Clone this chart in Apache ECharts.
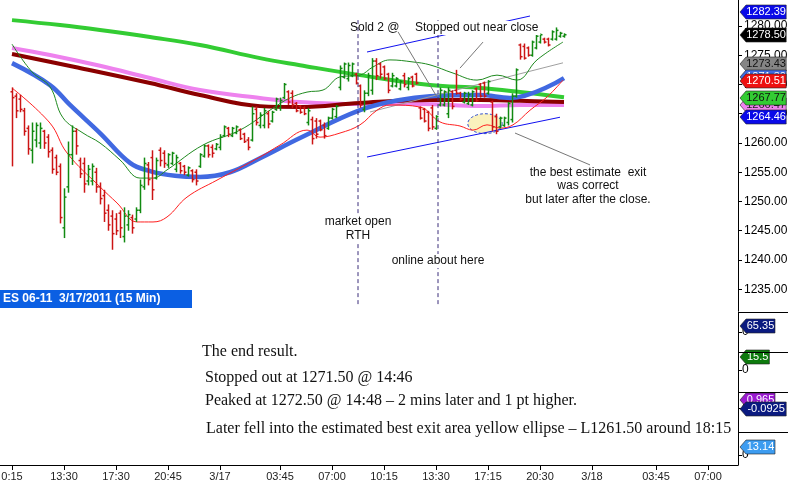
<!DOCTYPE html>
<html>
<head>
<meta charset="utf-8">
<script src="https://cdn.jsdelivr.net/npm/echarts@6/dist/echarts.min.js"></script>
<style>
html, body { margin: 0; padding: 0; background: #fff; }
#main { width: 788px; height: 491px; }
</style>
</head>
<body>
<div id="main"></div>
<script>
// ES 06-11, 15 min bars (bar number from the left edge)
var barOpen = [1268.75,1268,1267.5,1265.5,1262.5,1258.75,1260.5,1260,1262,1261,1258.75,1257.5,1256,1245.5,1252.5,1258,1262,1257,1256.5,1253.5,
  1253.5,1255,1252.5,1251,1248.5,1247.5,1247,1248,1244,1246,1247.25,1247,1248.5,1252.5,1256.25,1257.5,1254,1258.75,1258.25,1256.25,
  1256.5,1255.5,1256.5,1256,1254.5,1255.25,1255,1256,1257.75,1259.5,1259.25,1259,1259.25,1261.25,1262.5,1261.25,1261.75,1262.25,1261.5,1260.5,
  1260.5,1265.75,1263,1263,1265,1263.75,1265.75,1266,1267.75,1268.75,1268.5,1266.75,1266.25,1266,1263.5,1264,1263.75,1263.75,1263,1262.5,
  1264.25,1264.5,1269.5,1271.25,1271,1271.5,1271.75,1269.75,1265.75,1268.5,1269,1274,1273.5,1273,1271.75,1269.75,1269.75,1269.25,1271.5,1269.5,
  1271.25,1271.75,1266,1265.75,1265.25,1266,1262.5,1266.5,1266.5,1265,1268.75,1269,1268.5,1267,1266.75,1266.5,1269.25,1270,1270.25,1268.5,
  1267,1264.5,1262.75,1263,1263.5,1264,1268,1276.75,1276.5,1276.25,1275,1276.25,1277.25,1277.75,1277.75,1277.75,1277.75,1278.25,1278.25];
var barHigh = [1269.5,1268.5,1268.25,1266,1263,1263.5,1263.5,1263.5,1262.25,1261.5,1259.25,1258,1256.5,1252.25,1260.25,1263,1262.5,1257.5,1257.5,1256.25,
  1256.5,1255.75,1253.25,1252,1249.5,1248.5,1248,1248.5,1249,1248.5,1247.75,1249,1253.75,1257.5,1256.75,1258.75,1257.5,1259.25,1258.75,1258.25,
  1258.5,1258,1256.75,1256.25,1256,1255.5,1255.5,1258.25,1259.75,1259.75,1259.75,1260,1261.5,1263,1262.75,1262.75,1263,1262.5,1261.75,1261,
  1266.25,1266.25,1265.25,1266,1265.5,1265.5,1267.75,1267.75,1270.25,1269,1269,1267,1266.5,1266.25,1266,1264.5,1264.25,1264,1263.5,1264.5,
  1266,1266.5,1273.25,1273.75,1273.75,1273.75,1272,1270,1269,1272,1274.5,1274.5,1273.75,1273.25,1272,1272,1271.25,1270.75,1272,1271.25,
  1271.5,1272,1266.25,1266,1265.5,1266.5,1264.75,1269.5,1269,1269.5,1269,1272.5,1268.75,1268.75,1268.75,1269,1269.5,1270.25,1270.5,1270.75,
  1267.25,1265,1264.5,1264.5,1267,1268.5,1272.75,1277,1277,1276.5,1277.5,1278.5,1278.75,1278,1278,1279.25,1279.75,1279,1278.75];
var barLow = [1256,1264.25,1265.25,1261.25,1258,1256.5,1259.25,1259,1259,1257.5,1254.75,1254.5,1246.25,1243.75,1251.5,1256.25,1258,1254,1251.5,1252.75,
  1252.75,1251.5,1249.5,1246.5,1245,1241.75,1244.25,1243.75,1243,1245,1244.5,1246.5,1248,1252,1252.75,1250.25,1253.75,1256,1255.75,1255.75,
  1256.25,1255,1254.75,1254.5,1254.25,1253.25,1252.75,1255.75,1257.5,1257.5,1257.5,1258.75,1258.75,1261,1261,1261,1261.5,1260.5,1260,1258.75,
  1260.25,1263,1262.5,1262.5,1262.5,1263.5,1265.5,1265.5,1267.5,1266.5,1266,1265.25,1265,1264.75,1263,1259.75,1260.75,1262,1260.75,1262.25,
  1264,1264.25,1269,1271,1270.5,1271.25,1270,1266,1265.25,1268,1268.25,1270.75,1271,1270.75,1268.5,1269.5,1269.5,1269,1269.5,1269,
  1269.5,1270,1264,1263.5,1262,1262.25,1262.25,1266.25,1266.25,1264.25,1265.75,1268.25,1267.25,1266.75,1266.5,1266.25,1267,1267.75,1267.75,1268.25,
  1262,1261.5,1262.5,1262.75,1263,1263.5,1267.75,1274.25,1274.25,1274.75,1274.75,1276,1277,1277,1276.5,1277.5,1277.5,1278,1278];
var barClose = [1267.75,1265.5,1265.75,1262,1259,1262,1263,1262.5,1260,1258.5,1255.5,1255,1247.25,1250.75,1258,1262,1259.5,1254.75,1253,1255.5,
  1256,1252.5,1250.5,1248,1246,1244.5,1245,1245.5,1247.5,1247.75,1245.5,1248.5,1252.75,1256.5,1253.75,1252,1257,1257,1256.5,1258,
  1258.25,1257.5,1255.25,1255,1255.75,1253.75,1253.5,1258,1259.5,1258,1258.25,1259.75,1261,1262.75,1261.5,1262.5,1262.75,1260.75,1260.25,1259.25,
  1265,1263.5,1264.75,1265.5,1263.25,1265.25,1267.5,1267.25,1270,1267,1266.5,1265.5,1265.25,1265,1265.5,1260.75,1261.5,1262.25,1261.25,1264.25,
  1265.75,1266.25,1272.75,1273.5,1273.25,1273.5,1270.25,1266.5,1268.5,1271.5,1274,1271.5,1271.75,1271,1269,1271.5,1271,1270.5,1270,1271,
  1269.75,1270.25,1264.25,1263.75,1262.5,1262.75,1264.5,1269,1268.75,1269,1266.25,1268.5,1267.5,1268.5,1268.25,1268.75,1267.25,1268,1268,1270.5,
  1262.75,1262,1264.25,1264.25,1266.75,1268,1272.5,1274.75,1274.5,1275,1277.25,1278.25,1278.5,1277.25,1276.75,1279,1279.25,1278.75,1278.5];

// averages and bands, [bar, price]
var maGreen = [[0,1281.0],[12,1280.15],[22,1279.3],[34.5,1278.1],[47,1276.75],[62,1274.5],[72,1273.3],[87,1271.6],[104.5,1269.9],[117,1269.4],[127,1268.7],[138,1267.8]];
var maPink = [[0,1276.25],[9.5,1275.05],[22,1273.2],[34.5,1271.1],[47,1269.05],[62,1267.7],[72,1267.0],[87,1266.65],[102,1266.65],[117,1266.3],[127,1266.5],[138,1266.5]];
var maDarkRed = [[0,1275.2],[15.75,1273.0],[34.5,1270.25],[47,1268.2],[62,1266.3],[72,1266.15],[87,1266.85],[104.5,1267.35],[117,1267.35],[127,1267.2],[138,1267.0]];
var maBlue = [[0,1273.65],[9.5,1269.9],[14.5,1266.5],[22,1261.7],[29.5,1256.6],[34.5,1255.2],[40.75,1254.4],[47,1254.2],[54.5,1255.0],[62,1257.4],[72,1260.85],[87,1265.6],[97,1267.35],[104.5,1268.0],[117,1268.2],[124.5,1267.7],[138,1271.1]];
var bandUpper = [[0,1276.9],[5,1272.15],[9.5,1269.6],[12.75,1264.3],[17.75,1261.7],[22,1260.0],[27,1257.1],[32,1254.0],[35.25,1254.0],[38.75,1255.4],[47.75,1259.65],[57,1262.2],[65.25,1265.95],[69.5,1267.7],[73.75,1268.7],[77.75,1269.05],[82,1271.3],[87,1271.6],[90.25,1273.0],[94.5,1274.2],[100.25,1273.85],[104.5,1273.35],[110.25,1271.95],[116.25,1270.75],[121.25,1271.6],[126.25,1270.75],[131.25,1274.2],[137.75,1277.25]];
var bandLower = [[0,1269.4],[9.5,1263.4],[13.75,1258.3],[22,1252.5],[26.25,1249.75],[31.25,1246.5],[35.25,1246.5],[38.75,1247.35],[43.75,1250.75],[51.25,1253.65],[62,1257.6],[67,1259.65],[73.75,1262.2],[77,1261.0],[82,1261.7],[87,1263.1],[91.25,1265.6],[94.5,1266.5],[102,1266.15],[107,1263.6],[112,1262.9],[115.25,1262.2],[118.75,1263.1],[122,1262.55],[125.25,1263.1],[129.5,1265.6],[133.75,1267.85],[137.75,1270.75]];

// hand drawn lines
var trendGrey = [[89.5,1265.3],[137.75,1273.7]];
var channelUpper = [[88.75,1275.55],[129.5,1281.7]];
var channelLower = [[88.75,1257.6],[137,1264.4]];
var rthOpen = [[86.5,1281.0],[86.5,1232.1]];
var onlineHere = [[106.5,1281.0],[106.5,1232.1]];
var soldPointer = [[96.5,1279.0],[106.25,1267.85]];
var stoppedPointer = [[117.75,1277.25],[112,1272.8]];
var exitPointer = [[125.75,1261.7],[144.5,1256.25]];
var exitEllipse = [[118.25,1263.3,4.3,1.7]];

// axes
var priceTicks = [1235,1240,1245,1250,1255,1260,1265,1270,1275,1280];
var timeTickPos = [0,13,26,39,52,67,80,93,106,119,132,145,161,174];
var timeTickText = ['0:15','13:30','17:30','20:45','3/17','03:45','07:00','10:15','13:30','17:15','20:30','3/18','03:45','07:00'];

// last-value tags
var priceTagText = ['1282.39','1278.50','1273.43','1271.30','1270.51','1266.47','1267.77','1264.46'];
var priceTagFill = ['#0a0ae8','#000000','#858585','#3e6ae0','#ee1111','#ee82ee','#33cc33','#0a0ae8'];
var priceTagInk = ['#fff','#fff','#111','#fff','#fff','#222','#111','#fff'];
var panelTagText = [['65.35'],['15.5'],['0.965','-0.0925'],['13.14']];
var panelTagFill = [['#0a1a80'],['#0d7a0d'],['#9a1ad0','#0a1a80'],['#3d9cf0']];
var panelRange = [[-218,218],[-26.2,21.5],[-2.795,1.905],[-16.4,37.8]];

var xMin = -3, xMax = 181.5;
var chart = echarts.init(document.getElementById('main'));

var bars = barOpen.map(function (o, i) {
    return [i, o, barHigh[i], barLow[i], barClose[i]];
});

function renderOHLC(params, api) {
    var i = api.value(0);
    var o = api.coord([i, api.value(1)]);
    var h = api.coord([i, api.value(2)]);
    var l = api.coord([i, api.value(3)]);
    var c = api.coord([i, api.value(4)]);
    var x = Math.round(h[0]) + 0.5;
    var col = api.value(4) >= api.value(1) ? '#118a11' : '#cc1414';
    var st = {stroke: col, lineWidth: 1.5};
    return {
        type: 'group',
        children: [
            {type: 'line', shape: {x1: x, y1: h[1], x2: x, y2: l[1]}, style: st},
            {type: 'line', shape: {x1: x - 2, y1: o[1], x2: x, y2: o[1]}, style: st},
            {type: 'line', shape: {x1: x, y1: c[1], x2: x + 2, y2: c[1]}, style: st}
        ]
    };
}

function tagSeries(gi, texts, fills, inks) {
    return {
        type: 'custom', xAxisIndex: gi, yAxisIndex: gi, silent: true, clip: false, z: 20,
        data: texts.map(function (t) { return [0, parseFloat(t)]; }),
        renderItem: function (params, api) {
            var t = texts[params.dataIndex];
            var y = Math.round(api.coord([0, api.value(1)])[1]);
            var x0 = params.coordSys.x + params.coordSys.width;
            var w = t.length * 5.6 + 1;
            return {
                type: 'group',
                children: [
                    {type: 'polygon', shape: {points: [[x0 + 2, y], [x0 + 8, y - 7], [x0 + 8 + w, y - 7], [x0 + 8 + w, y + 7], [x0 + 8, y + 7]]},
                        style: {fill: fills[params.dataIndex], stroke: '#222', lineWidth: 0.6}},
                    {type: 'text', x: x0 + 8 + w / 2, y: y,
                        style: {text: t, fill: inks ? inks[params.dataIndex] : '#fff', font: '11px "Liberation Sans"', align: 'center', verticalAlign: 'middle'}}
                ]
            };
        }
    };
}

function lineSeries(data, color, width, z, smooth, dash) {
    return {
        type: 'line', xAxisIndex: 0, yAxisIndex: 0, data: data, showSymbol: false, silent: true,
        smooth: smooth, z: z,
        lineStyle: {color: color, width: width, type: dash || 'solid'}
    };
}

var grids = [
    {left: 0, top: 0, width: 738, height: 311},
    {left: 0, top: 312, width: 738, height: 40},
    {left: 0, top: 352, width: 738, height: 40},
    {left: 0, top: 392, width: 738, height: 40},
    {left: 0, top: 432, width: 738, height: 33}
];
grids.forEach(function (g) { g.outerBoundsMode = 'none'; g.containLabel = false; });

var xAxes = grids.map(function (g, gi) {
    var bottom = gi === 4;
    return {
        type: 'value', gridIndex: gi, min: xMin, max: xMax, show: bottom,
        splitLine: {show: false},
        axisLine: {show: bottom, onZero: false, lineStyle: {color: '#000', width: 1}},
        axisTick: {show: bottom, length: 5, customValues: timeTickPos, lineStyle: {color: '#000'}},
        axisLabel: {
            show: bottom, customValues: timeTickPos, color: '#222', fontSize: 11, fontFamily: 'Liberation Sans', margin: 6,
            formatter: function (v) { return timeTickText[timeTickPos.indexOf(v)]; }
        }
    };
});

var yAxes = [{
    type: 'value', gridIndex: 0, position: 'right', min: 1231.28, max: 1284.44,
    splitLine: {show: false},
    axisLine: {show: true, onZero: false, lineStyle: {color: '#000', width: 1}},
    axisTick: {show: true, length: 4, customValues: priceTicks, lineStyle: {color: '#000'}},
    axisLabel: {customValues: priceTicks, color: '#000', fontSize: 12, fontFamily: 'Liberation Sans', margin: 6,
        formatter: function (v) { return v.toFixed(2); }}
}];
panelRange.forEach(function (r, k) {
    yAxes.push({
        type: 'value', gridIndex: k + 1, position: 'right', min: r[0], max: r[1],
        splitLine: {show: false},
        axisLine: {show: true, onZero: false, lineStyle: {color: '#000', width: 1}},
        axisTick: {show: true, length: 4, customValues: [0], lineStyle: {color: '#000'}},
        axisLabel: {customValues: [0], color: '#000', fontSize: 12, fontFamily: 'Liberation Sans', margin: 4}
    });
});

var series = [
    {
        type: 'custom', xAxisIndex: 0, yAxisIndex: 0, silent: true, z: 1, data: exitEllipse,
        renderItem: function (params, api) {
            var c = api.coord([api.value(0), api.value(1)]);
            var s = api.size([api.value(2), api.value(3)]);
            var pts = [];
            for (var k = 0; k < 48; k++) {
                var a = k / 48 * Math.PI * 2;
                pts.push([c[0] + s[0] * Math.cos(a), c[1] + s[1] * Math.sin(a)]);
            }
            return {type: 'polygon', shape: {points: pts},
                style: {fill: '#faf2bd', stroke: '#2f4fd0', lineWidth: 1, lineDash: [3, 2]}};
        }
    },
    lineSeries(maGreen, '#33cc33', 4, 2, 0.4),
    lineSeries(maPink, '#ee82ee', 4, 2, 0.4),
    lineSeries(maDarkRed, '#8b0000', 4, 2, 0.4),
    lineSeries(maBlue, '#4169e1', 4.5, 2, 0.4),
    lineSeries(trendGrey, '#a0a0a0', 1, 3, false),
    lineSeries(channelUpper, '#1010f0', 1, 3, false),
    lineSeries(channelLower, '#1010f0', 1, 3, false),
    lineSeries(bandUpper, '#1f8a1f', 1, 3, 0.4),
    lineSeries(bandLower, '#ff2020', 1, 3, 0.4),
    {type: 'custom', xAxisIndex: 0, yAxisIndex: 0, silent: true, z: 4, data: bars, renderItem: renderOHLC},
    lineSeries(rthOpen, '#3b2d7a', 1, 5, false, [4, 3]),
    lineSeries(onlineHere, '#3b2d7a', 1, 5, false, [4, 3]),
    lineSeries(soldPointer, '#777777', 1, 5, false),
    lineSeries(stoppedPointer, '#777777', 1, 5, false),
    lineSeries(exitPointer, '#777777', 1, 5, false),
    tagSeries(0, priceTagText, priceTagFill, priceTagInk)
];
panelTagText.forEach(function (t, k) {
    series.push(tagSeries(k + 1, t, panelTagFill[k], null));
});

var arial = '12px "Liberation Sans"';
var serif = '16px "Liberation Serif"';
function txt(x, y, s, font, align, bg, lh) {
    return {type: 'text', x: x, y: y, z: 100,
        style: {text: s, font: font, fill: '#111', align: align || 'left', verticalAlign: 'middle',
            backgroundColor: bg || 'transparent', padding: bg ? [1, 2] : 0, lineHeight: lh || null}};
}

var graphics = [
    txt(350, 28, 'Sold 2 @', arial),
    txt(413, 28, 'Stopped out near close', arial, 'left', '#fff'),
    txt(358, 229, 'market open\nRTH', arial, 'center', '#fff', 14),
    txt(438, 261, 'online about here', arial, 'center', '#fff'),
    txt(588, 186, 'the best estimate  exit\nwas correct\nbut later after the close.', arial, 'center', null, 13.5),
    txt(202, 352, 'The end result.', serif),
    txt(205, 378, 'Stopped out at 1271.50 @ 14:46', serif),
    txt(205, 401, 'Peaked at 1272.50 @ 14:48 \u2013 2 mins later and 1 pt higher.', serif),
    txt(206, 429, 'Later fell into the estimated best exit area yellow ellipse \u2013 L1261.50 around 18:15', serif),
    {type: 'rect', x: 0, y: 290, z: 100, shape: {width: 192, height: 18}, style: {fill: '#0b5fe3'}},
    {type: 'text', x: 3, y: 299, z: 101, style: {text: 'ES 06-11  3/17/2011 (15 Min)', font: 'bold 12px "Liberation Sans"', fill: '#fff', verticalAlign: 'middle'}}
];
[312, 352, 392, 432].forEach(function (yy) {
    graphics.push({type: 'line', z: 50, shape: {x1: 738, y1: yy + 0.5, x2: 788, y2: yy + 0.5}, style: {stroke: '#000', lineWidth: 1}});
});

chart.setOption({
    animation: false,
    backgroundColor: '#fff',
    grid: grids,
    xAxis: xAxes,
    yAxis: yAxes,
    series: series,
    graphic: graphics
});
</script>
</body>
</html>
